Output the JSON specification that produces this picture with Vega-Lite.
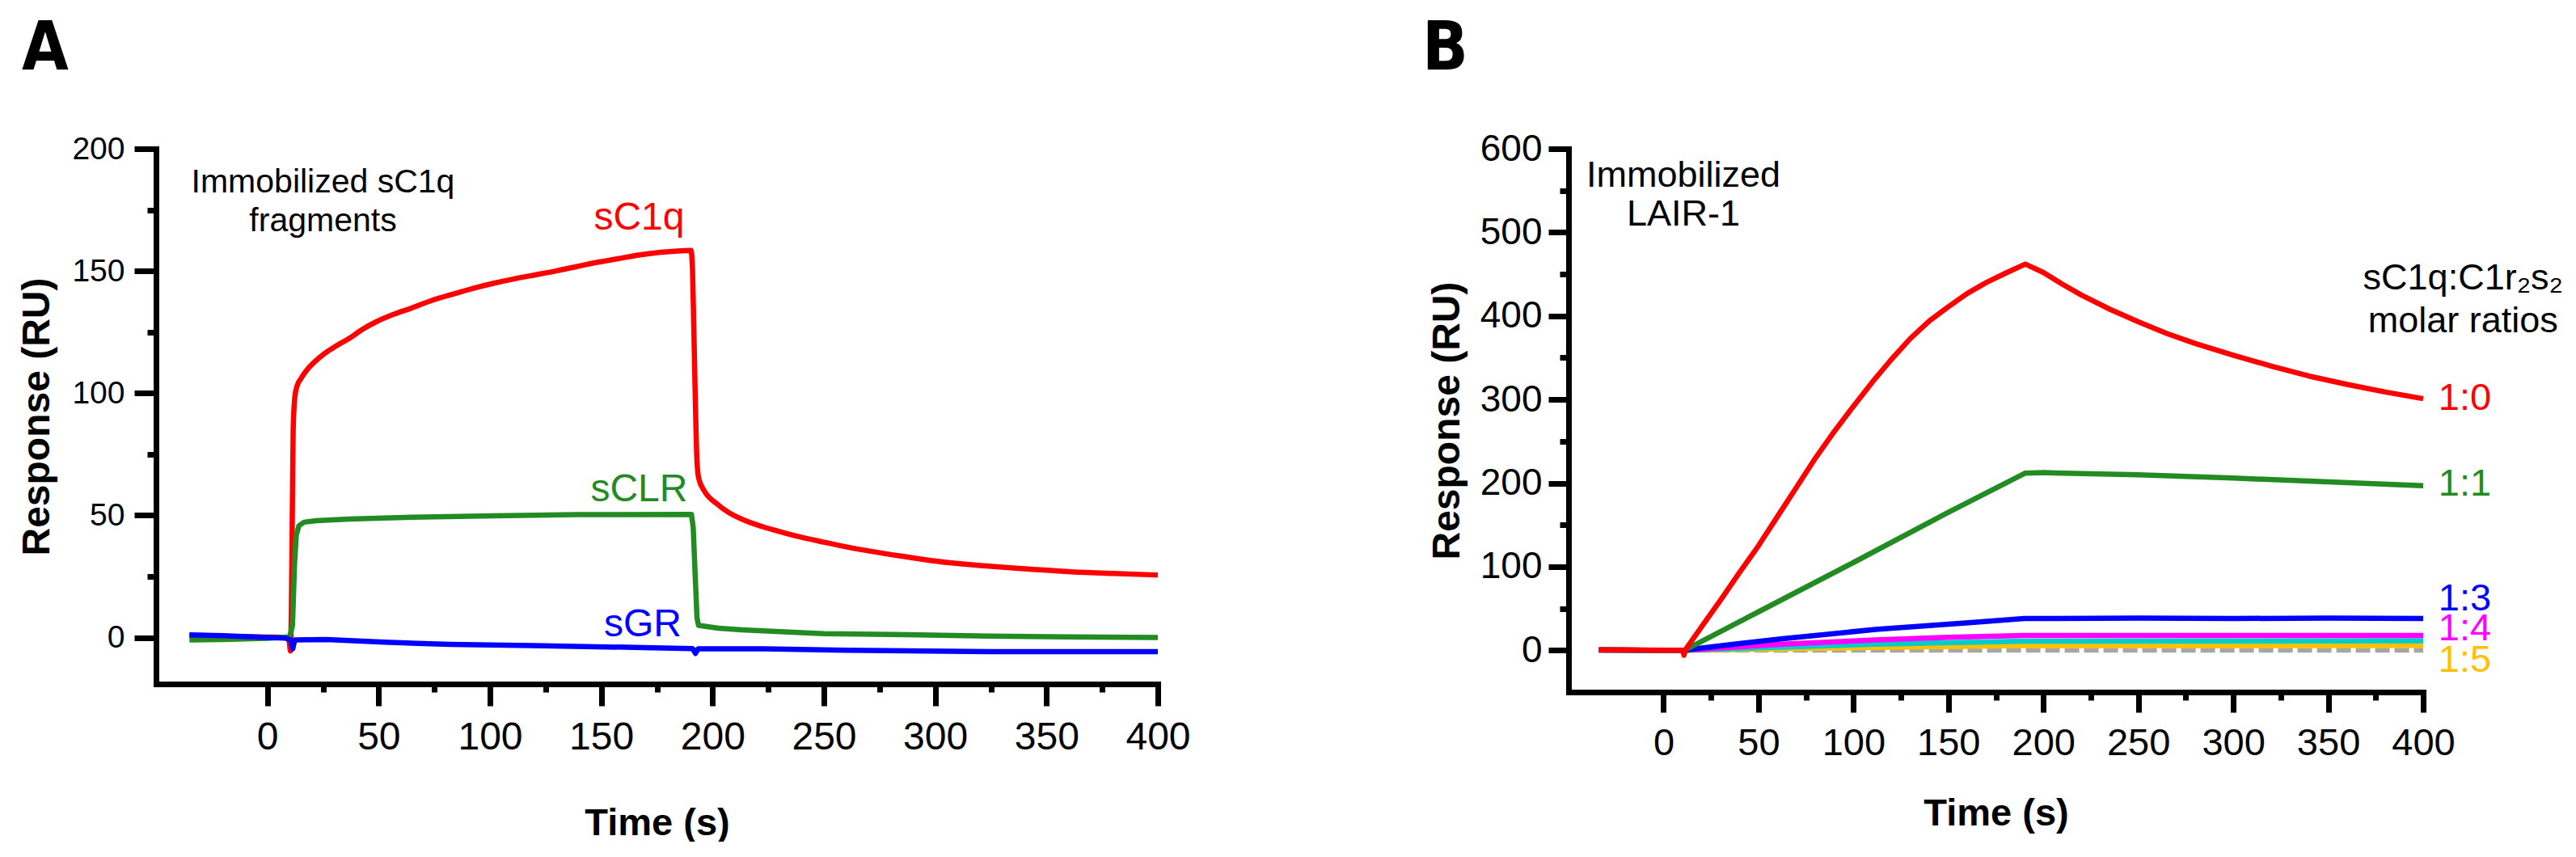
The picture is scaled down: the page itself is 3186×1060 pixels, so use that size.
{
  "$schema": "https://vega.github.io/schema/vega-lite/v6.json",
  "description": "SPR sensorgrams: sC1q fragments on immobilized sC1q, and sC1q:C1r2s2 mixtures on immobilized LAIR-1",
  "background": "white",
  "padding": {"left": 22, "top": 20, "right": 0, "bottom": 0},
  "bounds": "flush",
  "spacing": 508,
  "resolve": {"scale": {"color": "independent"}},
  "datasets": {
    "panelA": [
      {"series": "sC1q", "time": -35, "response": 0.8},
      {"series": "sC1q", "time": -20, "response": 0.5},
      {"series": "sC1q", "time": 0, "response": 0.2},
      {"series": "sC1q", "time": 9, "response": 0},
      {"series": "sC1q", "time": 9.8, "response": -1.5},
      {"series": "sC1q", "time": 10.4, "response": -5.5},
      {"series": "sC1q", "time": 11, "response": 30},
      {"series": "sC1q", "time": 11.6, "response": 85},
      {"series": "sC1q", "time": 12.3, "response": 98},
      {"series": "sC1q", "time": 13.3, "response": 102.8},
      {"series": "sC1q", "time": 15, "response": 105.8},
      {"series": "sC1q", "time": 17.5, "response": 109.2},
      {"series": "sC1q", "time": 21, "response": 112.6},
      {"series": "sC1q", "time": 25.5, "response": 116.1},
      {"series": "sC1q", "time": 30.7, "response": 119.2},
      {"series": "sC1q", "time": 36.8, "response": 122.4},
      {"series": "sC1q", "time": 42.5, "response": 126},
      {"series": "sC1q", "time": 48.9, "response": 129.2},
      {"series": "sC1q", "time": 56, "response": 132},
      {"series": "sC1q", "time": 64.7, "response": 134.8},
      {"series": "sC1q", "time": 73.5, "response": 137.8},
      {"series": "sC1q", "time": 83.3, "response": 140.5},
      {"series": "sC1q", "time": 92.5, "response": 142.9},
      {"series": "sC1q", "time": 101.8, "response": 145},
      {"series": "sC1q", "time": 111, "response": 146.8},
      {"series": "sC1q", "time": 120.4, "response": 148.4},
      {"series": "sC1q", "time": 129.7, "response": 150},
      {"series": "sC1q", "time": 138.9, "response": 151.8},
      {"series": "sC1q", "time": 148, "response": 153.5},
      {"series": "sC1q", "time": 157.4, "response": 155},
      {"series": "sC1q", "time": 166.6, "response": 156.5},
      {"series": "sC1q", "time": 175.9, "response": 157.6},
      {"series": "sC1q", "time": 183, "response": 158.1},
      {"series": "sC1q", "time": 190.3, "response": 158.4},
      {"series": "sC1q", "time": 191, "response": 150},
      {"series": "sC1q", "time": 191.6, "response": 125},
      {"series": "sC1q", "time": 192.3, "response": 95},
      {"series": "sC1q", "time": 193, "response": 72},
      {"series": "sC1q", "time": 193.8, "response": 65},
      {"series": "sC1q", "time": 196.3, "response": 60},
      {"series": "sC1q", "time": 201.8, "response": 54.8},
      {"series": "sC1q", "time": 207, "response": 51.3},
      {"series": "sC1q", "time": 213, "response": 48.5},
      {"series": "sC1q", "time": 222, "response": 45.5},
      {"series": "sC1q", "time": 231.5, "response": 43},
      {"series": "sC1q", "time": 240.5, "response": 40.9},
      {"series": "sC1q", "time": 250, "response": 39},
      {"series": "sC1q", "time": 259, "response": 37.3},
      {"series": "sC1q", "time": 268.5, "response": 35.7},
      {"series": "sC1q", "time": 277.5, "response": 34.3},
      {"series": "sC1q", "time": 287, "response": 33},
      {"series": "sC1q", "time": 296, "response": 31.8},
      {"series": "sC1q", "time": 305.5, "response": 30.7},
      {"series": "sC1q", "time": 324, "response": 29.2},
      {"series": "sC1q", "time": 342.6, "response": 28},
      {"series": "sC1q", "time": 361, "response": 26.9},
      {"series": "sC1q", "time": 379.6, "response": 26.2},
      {"series": "sC1q", "time": 400, "response": 25.6},
      {"series": "sCLR", "time": -35, "response": -1},
      {"series": "sCLR", "time": -20, "response": -0.8},
      {"series": "sCLR", "time": 0, "response": -0.3},
      {"series": "sCLR", "time": 10, "response": 0.3},
      {"series": "sCLR", "time": 11.3, "response": 5},
      {"series": "sCLR", "time": 12.2, "response": 30},
      {"series": "sCLR", "time": 13, "response": 42},
      {"series": "sCLR", "time": 14.2, "response": 45.8},
      {"series": "sCLR", "time": 16.5, "response": 47.2},
      {"series": "sCLR", "time": 22, "response": 47.8},
      {"series": "sCLR", "time": 36.8, "response": 48.5},
      {"series": "sCLR", "time": 64.7, "response": 49.2},
      {"series": "sCLR", "time": 101.8, "response": 49.8},
      {"series": "sCLR", "time": 138.9, "response": 50.3},
      {"series": "sCLR", "time": 190.5, "response": 50.4},
      {"series": "sCLR", "time": 191.3, "response": 45},
      {"series": "sCLR", "time": 192.2, "response": 25},
      {"series": "sCLR", "time": 193, "response": 8},
      {"series": "sCLR", "time": 193.7, "response": 5},
      {"series": "sCLR", "time": 202.6, "response": 3.8},
      {"series": "sCLR", "time": 213, "response": 3.2},
      {"series": "sCLR", "time": 250, "response": 1.6},
      {"series": "sCLR", "time": 287, "response": 1.2},
      {"series": "sCLR", "time": 324, "response": 0.6},
      {"series": "sCLR", "time": 360, "response": 0.3},
      {"series": "sCLR", "time": 400, "response": 0},
      {"series": "sGR", "time": -35, "response": 1.1},
      {"series": "sGR", "time": -20, "response": 0.8},
      {"series": "sGR", "time": 0, "response": 0},
      {"series": "sGR", "time": 8, "response": -0.2},
      {"series": "sGR", "time": 10.5, "response": -1},
      {"series": "sGR", "time": 11.4, "response": -4.6},
      {"series": "sGR", "time": 12.3, "response": -1},
      {"series": "sGR", "time": 26.5, "response": -0.8},
      {"series": "sGR", "time": 52.5, "response": -1.9},
      {"series": "sGR", "time": 82, "response": -2.8},
      {"series": "sGR", "time": 119, "response": -3.3},
      {"series": "sGR", "time": 169, "response": -4.1},
      {"series": "sGR", "time": 191, "response": -4.5},
      {"series": "sGR", "time": 192.3, "response": -6.5},
      {"series": "sGR", "time": 193.5, "response": -4.6},
      {"series": "sGR", "time": 223, "response": -4.6},
      {"series": "sGR", "time": 260, "response": -5.2},
      {"series": "sGR", "time": 324, "response": -5.8},
      {"series": "sGR", "time": 400, "response": -5.8}
    ],
    "labelsA": [
      {"series": "sC1q", "time": 167, "response": 167, "label": "sC1q"},
      {"series": "sCLR", "time": 167, "response": 55.8, "label": "sCLR"},
      {"series": "sGR", "time": 168.6, "response": 0.5, "label": "sGR"}
    ],
    "notesA": [
      {"series": "note", "time": 25, "response": 182.1, "label": "Immobilized sC1q"},
      {"series": "note", "time": 25, "response": 166.4, "label": "fragments"}
    ],
    "panelB": [
      {"series": "buffer", "time": -34, "response": 0},
      {"series": "buffer", "time": 400, "response": 0},
      {"series": "1:5", "time": -34, "response": 0.3},
      {"series": "1:5", "time": 11, "response": 0},
      {"series": "1:5", "time": 111.7, "response": 3.5},
      {"series": "1:5", "time": 190, "response": 5.5},
      {"series": "1:5", "time": 400, "response": 5.8},
      {"series": "unlabelled", "time": -34, "response": 0.3},
      {"series": "unlabelled", "time": 11, "response": 0},
      {"series": "unlabelled", "time": 111.7, "response": 7.4},
      {"series": "unlabelled", "time": 190, "response": 11},
      {"series": "unlabelled", "time": 400, "response": 11.5},
      {"series": "1:4", "time": -34, "response": 0.3},
      {"series": "1:4", "time": 11, "response": 0},
      {"series": "1:4", "time": 62.8, "response": 7.4},
      {"series": "1:4", "time": 111.7, "response": 12.3},
      {"series": "1:4", "time": 150, "response": 15.5},
      {"series": "1:4", "time": 190, "response": 17.8},
      {"series": "1:4", "time": 400, "response": 17.8},
      {"series": "1:3", "time": -34, "response": 0.5},
      {"series": "1:3", "time": 0, "response": 0},
      {"series": "1:3", "time": 11, "response": 0},
      {"series": "1:3", "time": 14, "response": 1},
      {"series": "1:3", "time": 40, "response": 8},
      {"series": "1:3", "time": 62.8, "response": 13.8},
      {"series": "1:3", "time": 111.7, "response": 25},
      {"series": "1:3", "time": 160.6, "response": 33},
      {"series": "1:3", "time": 190, "response": 38},
      {"series": "1:3", "time": 250, "response": 38.5},
      {"series": "1:3", "time": 300, "response": 38},
      {"series": "1:3", "time": 350, "response": 38.5},
      {"series": "1:3", "time": 400, "response": 38},
      {"series": "1:1", "time": -34, "response": 0.3},
      {"series": "1:1", "time": 0, "response": 0},
      {"series": "1:1", "time": 11, "response": 0},
      {"series": "1:1", "time": 50, "response": 46},
      {"series": "1:1", "time": 100, "response": 105},
      {"series": "1:1", "time": 150, "response": 165},
      {"series": "1:1", "time": 190.5, "response": 212},
      {"series": "1:1", "time": 200, "response": 212.5},
      {"series": "1:1", "time": 250, "response": 210},
      {"series": "1:1", "time": 300, "response": 206},
      {"series": "1:1", "time": 350, "response": 201.5},
      {"series": "1:1", "time": 400, "response": 197},
      {"series": "1:0", "time": -34, "response": 0.5},
      {"series": "1:0", "time": -20, "response": 0.5},
      {"series": "1:0", "time": 0, "response": 0},
      {"series": "1:0", "time": 10, "response": 0},
      {"series": "1:0", "time": 10.8, "response": -6},
      {"series": "1:0", "time": 11.6, "response": 1},
      {"series": "1:0", "time": 20, "response": 28},
      {"series": "1:0", "time": 30, "response": 60},
      {"series": "1:0", "time": 40, "response": 93},
      {"series": "1:0", "time": 50, "response": 125},
      {"series": "1:0", "time": 60, "response": 160},
      {"series": "1:0", "time": 70, "response": 195},
      {"series": "1:0", "time": 80, "response": 230},
      {"series": "1:0", "time": 90, "response": 262},
      {"series": "1:0", "time": 100, "response": 292},
      {"series": "1:0", "time": 110, "response": 321},
      {"series": "1:0", "time": 120, "response": 348},
      {"series": "1:0", "time": 130, "response": 373},
      {"series": "1:0", "time": 140, "response": 394},
      {"series": "1:0", "time": 150, "response": 411},
      {"series": "1:0", "time": 160, "response": 427},
      {"series": "1:0", "time": 170, "response": 440},
      {"series": "1:0", "time": 180, "response": 451},
      {"series": "1:0", "time": 190.5, "response": 462},
      {"series": "1:0", "time": 200, "response": 452},
      {"series": "1:0", "time": 210, "response": 438},
      {"series": "1:0", "time": 220, "response": 425},
      {"series": "1:0", "time": 235, "response": 408},
      {"series": "1:0", "time": 250, "response": 393},
      {"series": "1:0", "time": 265, "response": 379},
      {"series": "1:0", "time": 280, "response": 367},
      {"series": "1:0", "time": 300, "response": 353},
      {"series": "1:0", "time": 320, "response": 340},
      {"series": "1:0", "time": 340, "response": 328},
      {"series": "1:0", "time": 360, "response": 318},
      {"series": "1:0", "time": 380, "response": 309},
      {"series": "1:0", "time": 400, "response": 301}
    ],
    "labelsB": [
      {"series": "1:0", "time": 408, "response": 301, "label": "1:0"},
      {"series": "1:1", "time": 408, "response": 199, "label": "1:1"},
      {"series": "1:3", "time": 408, "response": 61, "label": "1:3"},
      {"series": "1:4", "time": 408, "response": 25, "label": "1:4"},
      {"series": "1:5", "time": 408, "response": -12, "label": "1:5"}
    ],
    "notesB": [
      {"series": "note", "time": 10.5, "response": 555, "label": "Immobilized"},
      {"series": "note", "time": 10.5, "response": 508.4, "label": "LAIR-1"},
      {"series": "note", "time": 421, "response": 431.3, "label": "sC1q:C1r₂s₂"},
      {"series": "note", "time": 421, "response": 380.3, "label": "molar ratios"}
    ]
  },
  "hconcat": [
    {
      "width": 1239,
      "height": 662,
      "title": {
        "text": "A",
        "anchor": "start",
        "frame": "group",
        "font": "Liberation Sans Narrow, DejaVu Sans Condensed, sans-serif",
        "fontSize": 83,
        "fontWeight": "bold",
        "color": "black",
        "dx": -166,
        "offset": 62
      },
      "encoding": {
        "x": {
          "field": "time",
          "type": "quantitative",
          "scale": {"domain": [-50, 400], "nice": false, "zero": false},
          "axis": {
            "title": "Time (s)",
            "values": [0, 25, 50, 75, 100, 125, 150, 175, 200, 225, 250, 275, 300, 325, 350, 375, 400],
            "labelExpr": "datum.value % 50 === 0 ? datum.label : ''",
            "tickSize": {"condition": {"test": "datum.value % 50 === 0", "value": 27}, "value": 10},
            "labelFontSize": 48,
            "labelPadding": 15,
            "titleFontSize": 47,
            "titlePadding": 59
          }
        },
        "y": {
          "field": "response",
          "type": "quantitative",
          "scale": {"domain": [-19, 200], "nice": false, "zero": false},
          "axis": {
            "title": "Response (RU)",
            "values": [0, 25, 50, 75, 100, 125, 150, 175, 200],
            "labelExpr": "datum.value % 50 === 0 ? datum.label : ''",
            "tickSize": {"condition": {"test": "datum.value % 50 === 0", "value": 27}, "value": 11},
            "labelFontSize": 39,
            "labelPadding": 12,
            "titleFontSize": 48,
            "titlePadding": 18
          }
        },
        "color": {
          "field": "series",
          "type": "nominal",
          "legend": null,
          "scale": {
            "domain": ["sC1q", "sCLR", "sGR", "note"],
            "range": ["#ff0000", "#228b22", "#0000ff", "#000000"]
          }
        }
      },
      "layer": [
        {
          "data": {"name": "panelA"},
          "transform": [{"filter": "datum.series === 'sC1q'"}],
          "mark": {"type": "line", "strokeWidth": 6.5, "strokeJoin": "round", "interpolate": "monotone"}
        },
        {
          "data": {"name": "panelA"},
          "transform": [{"filter": "datum.series === 'sCLR'"}],
          "mark": {"type": "line", "strokeWidth": 6.5, "strokeJoin": "round"}
        },
        {
          "data": {"name": "panelA"},
          "transform": [{"filter": "datum.series === 'sGR'"}],
          "mark": {"type": "line", "strokeWidth": 6.5, "strokeJoin": "round"}
        },
        {
          "data": {"name": "labelsA"},
          "mark": {"type": "text", "fontSize": 48, "align": "center", "baseline": "alphabetic"},
          "encoding": {"text": {"field": "label"}}
        },
        {
          "data": {"name": "notesA"},
          "mark": {"type": "text", "fontSize": 41, "align": "center", "baseline": "alphabetic"},
          "encoding": {"text": {"field": "label"}}
        }
      ]
    },
    {
      "width": 1057,
      "height": 672,
      "title": {
        "text": "B",
        "anchor": "start",
        "frame": "group",
        "font": "Liberation Sans Narrow, DejaVu Sans Condensed, sans-serif",
        "fontSize": 83,
        "fontWeight": "bold",
        "color": "black",
        "dx": -181,
        "offset": 58
      },
      "encoding": {
        "x": {
          "field": "time",
          "type": "quantitative",
          "scale": {"domain": [-50, 400], "nice": false, "zero": false},
          "axis": {
            "title": "Time (s)",
            "values": [0, 25, 50, 75, 100, 125, 150, 175, 200, 225, 250, 275, 300, 325, 350, 375, 400],
            "labelExpr": "datum.value % 50 === 0 ? datum.label : ''",
            "tickSize": {"condition": {"test": "datum.value % 50 === 0", "value": 25}, "value": 10},
            "labelFontSize": 47,
            "labelPadding": 15,
            "titleFontSize": 47,
            "titlePadding": 41
          }
        },
        "y": {
          "field": "response",
          "type": "quantitative",
          "scale": {"domain": [-50, 600], "nice": false, "zero": false},
          "axis": {
            "title": "Response (RU)",
            "values": [0, 50, 100, 150, 200, 250, 300, 350, 400, 450, 500, 550, 600],
            "labelExpr": "datum.value % 100 === 0 ? datum.label : ''",
            "tickSize": {"condition": {"test": "datum.value % 100 === 0", "value": 25}, "value": 11},
            "labelFontSize": 46,
            "labelPadding": 8,
            "titleFontSize": 48,
            "titlePadding": 16
          }
        },
        "color": {
          "field": "series",
          "type": "nominal",
          "legend": null,
          "scale": {
            "domain": ["1:0", "1:1", "1:3", "1:4", "unlabelled", "1:5", "buffer", "note"],
            "range": ["#ff0000", "#228b22", "#0000ff", "#ff00ff", "#00cccc", "#ffc000", "#a6a6a6", "#000000"]
          }
        }
      },
      "layer": [
        {
          "data": {"name": "panelB"},
          "transform": [{"filter": "datum.series === 'buffer'"}],
          "mark": {"type": "line", "strokeWidth": 6, "strokeDash": [18, 6]}
        },
        {
          "data": {"name": "panelB"},
          "transform": [{"filter": "datum.series === '1:5'"}],
          "mark": {"type": "line", "strokeWidth": 6.5, "strokeJoin": "round"}
        },
        {
          "data": {"name": "panelB"},
          "transform": [{"filter": "datum.series === 'unlabelled'"}],
          "mark": {"type": "line", "strokeWidth": 6.5, "strokeJoin": "round"}
        },
        {
          "data": {"name": "panelB"},
          "transform": [{"filter": "datum.series === '1:4'"}],
          "mark": {"type": "line", "strokeWidth": 6.5, "strokeJoin": "round"}
        },
        {
          "data": {"name": "panelB"},
          "transform": [{"filter": "datum.series === '1:3'"}],
          "mark": {"type": "line", "strokeWidth": 6.5, "strokeJoin": "round"}
        },
        {
          "data": {"name": "panelB"},
          "transform": [{"filter": "datum.series === '1:1'"}],
          "mark": {"type": "line", "strokeWidth": 6.5, "strokeJoin": "round"}
        },
        {
          "data": {"name": "panelB"},
          "transform": [{"filter": "datum.series === '1:0'"}],
          "mark": {"type": "line", "strokeWidth": 6.5, "strokeJoin": "round"}
        },
        {
          "data": {"name": "labelsB"},
          "mark": {"type": "text", "fontSize": 47, "align": "left", "baseline": "middle"},
          "encoding": {"text": {"field": "label"}}
        },
        {
          "data": {"name": "notesB"},
          "mark": {"type": "text", "fontSize": 45, "align": "center", "baseline": "alphabetic"},
          "encoding": {"text": {"field": "label"}}
        }
      ]
    }
  ],
  "config": {
    "view": {"stroke": null},
    "font": "Liberation Sans",
    "text": {"font": "Liberation Sans"},
    "title": {"font": "Liberation Sans"},
    "axis": {
      "grid": false,
      "domainColor": "#000000",
      "domainWidth": 7,
      "domainCap": "square",
      "tickColor": "#000000",
      "tickWidth": 7,
      "labelColor": "#000000",
      "labelFont": "Liberation Sans",
      "labelFlush": false,
      "labelOverlap": false,
      "titleColor": "#000000",
      "titleFont": "Liberation Sans",
      "titleFontWeight": "bold"
    }
  }
}
